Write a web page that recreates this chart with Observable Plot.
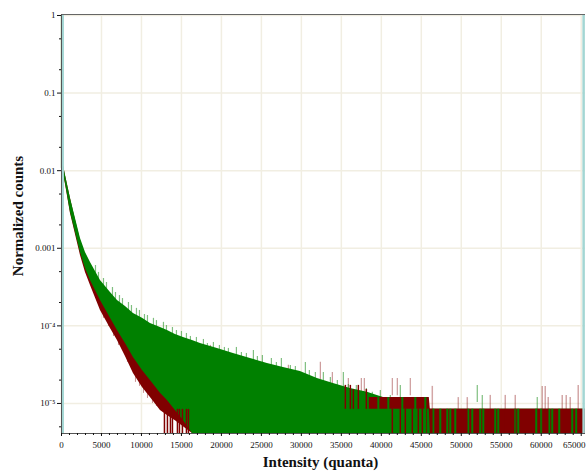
<!DOCTYPE html>
<html>
<head>
<meta charset="utf-8">
<script src="https://cdn.jsdelivr.net/npm/d3@7"></script>
<script src="https://cdn.jsdelivr.net/npm/@observablehq/plot@0.6"></script>
<style>
  body { margin: 0; background: #fff; }
  #chart svg { display: block; }
</style>
</head>
<body>
<div id="chart"></div>
<script>
// ---- data (intensity in quanta, normalized counts) ----
const intensity = [0, 125, 500, 1125, 1750, 2375, 3000, 3625, 4875, 6125, 7000, 8000, 9000, 10125, 11125, 12375, 13250, 14250, 15250, 16375, 17375, 19500, 21500, 23625, 25750, 27750, 29875, 32000, 34000, 36125, 38250, 40250, 42375, 44500, 46125, 65535];
// green series: upper and lower edge of the noisy trace (0 = empty bins)
const greenHi = [1, 0.0135, 0.00867, 0.00438, 0.00242, 0.00134, 8.83e-4, 6.56e-4, 3.85e-4, 2.69e-4, 2.12e-4, 1.78e-4, 1.44e-4, 1.25e-4, 1.07e-4, 9.53e-5, 8.72e-5, 7.75e-5, 7.09e-5, 6.49e-5, 5.93e-5, 5.12e-5, 4.41e-5, 3.80e-5, 3.28e-5, 2.91e-5, 2.58e-5, 2.10e-5, 1.81e-5, 1.56e-5, 1.39e-5, 1.19e-5, 1.06e-5, 9.42e-6, 8.4e-6, 8.4e-6];
const greenLo = [0.0107, 0.0107, 0.00684, 0.00289, 0.0016, 8.83e-4, 5.49e-4, 3.85e-4, 2.12e-4, 1.25e-4, 8.72e-5, 5.93e-5, 3.92e-5, 2.66e-5, 1.98e-5, 1.35e-5, 1.09e-5, 8.1e-6, 6.04e-6, 0, 0, 0, 0, 0, 0, 0, 0, 0, 0, 0, 0, 0, 0, 0, 0, 0];
// dark red series
const redHi = [1, 0.0135, 0.00867, 0.00438, 0.0023, 0.00126, 8.2e-4, 6.0e-4, 3.4e-4, 2.3e-4, 1.8e-4, 1.5e-4, 1.2e-4, 1.0e-4, 8.6e-5, 7.5e-5, 6.8e-5, 6.0e-5, 5.4e-5, 4.9e-5, 4.5e-5, 3.9e-5, 3.4e-5, 3.0e-5, 2.6e-5, 2.3e-5, 2.1e-5, 1.8e-5, 1.6e-5, 1.4e-5, 1.27e-5, 1.19e-5, 1.06e-5, 9.42e-6, 8.4e-6, 8.4e-6];
const redLo = [0.0107, 0.0107, 0.00664, 0.00281, 0.00151, 8.07e-4, 4.88e-4, 3.32e-4, 1.58e-4, 9.25e-5, 6.49e-5, 4.03e-5, 2.44e-5, 1.61e-5, 1.19e-5, 8.1e-6, 7.0e-6, 6.0e-6, 5.0e-6, 0, 0, 0, 0, 0, 0, 0, 0, 0, 0, 0, 0, 0, 0, 0, 0, 0];

// isolated bins poking out above the green trace
const greenSpikeX = [4250, 4625, 5250, 5625, 6375, 6750, 7250, 7625, 8375, 8750, 9375, 9750, 10375, 10750, 11500, 11875, 12750, 13125, 13875, 14375, 15000, 15625, 16125, 16875, 17750, 18250, 19000, 19750, 20375, 20875, 21875, 22500, 23125, 24000, 24500, 25125, 26250, 26875, 27500, 28625, 29250, 30500, 31000, 31750, 32750, 33625, 34500, 35250, 35875, 36875, 38125, 38875, 39875, 41125, 42375, 43625, 44875, 45875, 52000, 52625, 59500];
const greenSpikeY = [6.0e-4, 4.88e-4, 4.08e-4, 3.62e-4, 3.12e-4, 2.69e-4, 2.46e-4, 2.25e-4, 2.0e-4, 1.83e-4, 1.68e-4, 1.58e-4, 1.40e-4, 1.36e-4, 1.25e-4, 1.17e-4, 1.11e-4, 1.01e-4, 9.53e-5, 8.72e-5, 8.47e-5, 7.98e-5, 7.30e-5, 7.09e-5, 6.68e-5, 5.93e-5, 6.11e-5, 5.59e-5, 5.27e-5, 5.12e-5, 5.27e-5, 4.54e-5, 4.41e-5, 4.82e-5, 4.03e-5, 4.16e-5, 3.80e-5, 3.38e-5, 3.80e-5, 3.09e-5, 3.0e-5, 3.38e-5, 2.66e-5, 2.51e-5, 2.51e-5, 2.16e-5, 1.98e-5, 2.51e-5, 1.76e-5, 1.71e-5, 1.56e-5, 1.39e-5, 1.47e-5, 1.27e-5, 1.71e-5, 1.19e-5, 1.09e-5, 9.42e-6, 1.71e-5, 1.27e-5, 1.19e-5];
// isolated red bins above the traces
const redSpikeX = [18625, 19375, 25125, 28375, 32375, 33875, 35875, 37500, 37875, 41375, 42000, 43625, 46375, 49625, 50750, 53625, 55500, 56750, 60125, 60500, 60875, 62625, 63125, 63625, 64625];
const redSpikeY = [5.6e-5, 4.8e-5, 3.4e-5, 3.1e-5, 3.4e-5, 2.5e-5, 2.1e-5, 2.1e-5, 2.1e-5, 2.1e-5, 2.1e-5, 2.1e-5, 1.66e-5, 1.19e-5, 1.19e-5, 1.27e-5, 1.27e-5, 1.27e-5, 1.66e-5, 1.66e-5, 1.19e-5, 1.27e-5, 1.27e-5, 1.19e-5, 1.71e-5];
// red bins dropping below the traces
const redDropX = [5250, 5875, 6500, 7125, 7625, 8250, 8750, 9250, 9750, 10250, 10750, 11375, 11875];
const redDropY = [1.25e-4, 9.83e-5, 7.30e-5, 5.59e-5, 4.82e-5, 3.38e-5, 3.0e-5, 1.87e-5, 1.66e-5, 1.35e-5, 1.16e-5, 1.0e-5, 9.15e-6];

// dark red bins showing through the green trace (0 = empty bins)
const redStripeX = [12875, 13250, 13625, 13875, 14500, 14750, 15125, 15625, 15875, 35500, 36125, 36500, 37125, 38125, 41375, 42375, 43000, 43875, 44625, 45125, 45625];
const redStripeLo = [0, 0, 0, 0, 0, 0, 0, 0, 0, 8.4e-6, 8.4e-6, 8.4e-6, 8.4e-6, 8.4e-6, 0, 0, 0, 0, 0, 0, 0];
const redStripeHi = [8.1e-6, 1.0e-5, 8.1e-6, 8.1e-6, 8.4e-6, 8.4e-6, 8.4e-6, 8.4e-6, 8.4e-6, 1.71e-5, 1.71e-5, 1.51e-5, 1.71e-5, 1.51e-5, 8.4e-6, 8.4e-6, 8.4e-6, 8.4e-6, 8.4e-6, 8.4e-6, 8.4e-6];

// tail of the red trace (single-count level), drawn over the green one
const redTailX = [38500, 46000, 46125, 65535];
const redTailLo = [8.4e-6, 8.4e-6, 0, 0];
const redTailHi = [1.19e-5, 1.19e-5, 8.4e-6, 8.4e-6];
// green bins visible in the red tail
const greenTailX = [39625, 40875, 42625, 44250, 45500, 46500, 47375, 48250, 48625, 49250, 50875, 51375, 52375, 52750, 54250, 54625, 56750, 57125, 59375, 60000, 61000, 61375, 62250, 63875, 64375];
const greenTailY = [1.19e-5, 1.19e-5, 1.19e-5, 1.19e-5, 1.19e-5, 8.4e-6, 8.4e-6, 8.4e-6, 8.4e-6, 8.4e-6, 8.4e-6, 8.4e-6, 8.4e-6, 8.4e-6, 8.4e-6, 8.4e-6, 8.4e-6, 8.4e-6, 8.4e-6, 8.4e-6, 8.4e-6, 8.4e-6, 8.4e-6, 8.4e-6, 8.4e-6];

// threshold markers
const markerX = [150, 65300];

// axes
const xTickValues = [0, 5000, 10000, 15000, 20000, 25000, 30000, 35000, 40000, 45000, 50000, 55000, 60000, 65000];
const xTickLabels = ["0", "5000", "10000", "15000", "20000", "25000", "30000", "35000", "40000", "45000", "50000", "55000", "60000", "65000"];
const yTickValues = [1, 0.1, 0.01, 0.001, 1e-4, 1e-5];
const yTickLabels = ["1", "0.1", "0.01", "0.001", "10\u207B\u2074", "10\u207B\u2075"];
const xTitle = "Intensity (quanta)";
const yTitle = "Normalized counts";

// ---- rendering ----
const yMin = 4.1e-6, yMax = 1.03;
const GREEN = "#008000", RED = "#800000";
const clampY = v => Math.max(v, yMin);

const band = intensity.map((x, i) => ({x, gHi: greenHi[i], gLo: clampY(greenLo[i]), rHi: redHi[i], rLo: clampY(redLo[i])}));
const gSpikes = greenSpikeX.map((x, i) => ({x, y: greenSpikeY[i]}));
const rSpikes = redSpikeX.map((x, i) => ({x, y: redSpikeY[i]}));
const rSpikesFront = rSpikes.filter(d => d.x >= 46000);
const rSpikesBack = rSpikes.filter(d => d.x < 46000);
const rDrops = redDropX.map((x, i) => ({x, y: redDropY[i]}));
const rStripes = redStripeX.map((x, i) => ({x, lo: clampY(redStripeLo[i]), hi: redStripeHi[i]}));
const rTail = redTailX.map((x, i) => ({x, lo: clampY(redTailLo[i]), hi: redTailHi[i]}));
const gTail = greenTailX.map((x, i) => ({x, hi: greenTailY[i]}));

const xMinor = d3.range(0, 65001, 1000).filter(v => !xTickValues.includes(v));
const yMinor = [];
for (let e = -6; e <= -1; e++) for (const m of [2, 5]) { const v = m * Math.pow(10, e); if (v > yMin && v < yMax) yMinor.push(v); }
const lastLabel = xTickLabels.length - 1;

const serif = "'Liberation Serif', 'Times New Roman', serif";

const chart = Plot.plot({
  width: 586,
  height: 472,
  marginLeft: 61,
  marginRight: 1,
  marginTop: 14,
  marginBottom: 39,
  x: {domain: [0, 65535]},
  y: {type: "log", domain: [yMin, yMax]},
  style: {background: "white", fontFamily: serif, color: "#111"},
  marks: [
    Plot.gridX(xTickValues, {stroke: "#f1eee2", strokeOpacity: 1, strokeWidth: 1.5}),
    Plot.gridY(yTickValues, {stroke: "#f1eee2", strokeOpacity: 1, strokeWidth: 1.5}),
    Plot.areaY(band, {x: "x", y1: "rLo", y2: "rHi", fill: RED}),
    Plot.ruleX(rDrops, {x: "x", y1: "y", y2: d => d.y * 2.5, stroke: RED, strokeOpacity: 0.45, strokeWidth: 1}),
    Plot.ruleX(rSpikesBack, {x: "x", y1: d => d.y * 0.6, y2: "y", stroke: RED, strokeOpacity: 0.4, strokeWidth: 1.2}),
    Plot.ruleX(gSpikes, {x: "x", y1: d => d.y * 0.6, y2: "y", stroke: GREEN, strokeOpacity: 0.5, strokeWidth: 1.2}),
    Plot.areaY(band, {x: "x", y1: "gLo", y2: "gHi", fill: GREEN}),
    Plot.ruleX([intensity[0]], {y1: redLo[0], y2: redHi[0], stroke: RED, strokeWidth: 1, dx: 1}),
    Plot.ruleX([intensity[0]], {y1: greenLo[0], y2: greenHi[0], stroke: GREEN, strokeWidth: 1.2}),
    Plot.ruleX(rStripes, {x: "x", y1: "lo", y2: "hi", stroke: RED, strokeWidth: 1.5}),
    Plot.areaY(rTail, {x: "x", y1: "lo", y2: "hi", fill: RED}),
    Plot.ruleX(gTail, {x: "x", y1: yMin, y2: "hi", stroke: GREEN, strokeWidth: 2}),
    Plot.ruleX(rSpikesFront, {x: "x", y1: yMin, y2: "y", stroke: RED, strokeOpacity: 0.35, strokeWidth: 1.5}),
    Plot.ruleX(markerX, {stroke: "#a3d6d3", strokeWidth: 2.5}),
    Plot.ruleY([yMax], {stroke: "#666", strokeWidth: 1.2}),
    Plot.ruleY([yMin], {stroke: "#555", strokeWidth: 1}),
    Plot.ruleX([0], {stroke: "#555", strokeWidth: 1}),
    Plot.axisX({ticks: xTickValues, tickFormat: d => { const i = xTickValues.indexOf(d); return i === lastLabel ? "" : xTickLabels[i]; }, tickSize: 3, tickPadding: 5, fontSize: 9, label: null}),
    Plot.text([xTickLabels[lastLabel]], {x: 65535, frameAnchor: "bottom", textAnchor: "end", lineAnchor: "top", dy: 8, fontSize: 9, fontFamily: serif, fill: "#111"}),
    Plot.axisX({ticks: xMinor, tickSize: 2, tickFormat: () => "", label: null}),
    Plot.axisY({ticks: yTickValues, tickFormat: d => yTickLabels[yTickValues.indexOf(d)], tickSize: 4, tickPadding: 2, fontSize: 9, label: null}),
    Plot.axisY({ticks: yMinor, tickSize: 2, tickFormat: () => "", label: null}),
    Plot.text([xTitle], {frameAnchor: "bottom", textAnchor: "middle", lineAnchor: "middle", dx: -3, dy: 29, fontSize: 15, fontWeight: "bold", fontFamily: serif, fill: "#111"}),
    Plot.text([yTitle], {frameAnchor: "left", textAnchor: "middle", lineAnchor: "middle", dx: -43, dy: -8, rotate: -90, fontSize: 15, fontWeight: "bold", fontFamily: serif, fill: "#111"})
  ]
});
document.getElementById("chart").appendChild(chart);
</script>
</body>
</html>
